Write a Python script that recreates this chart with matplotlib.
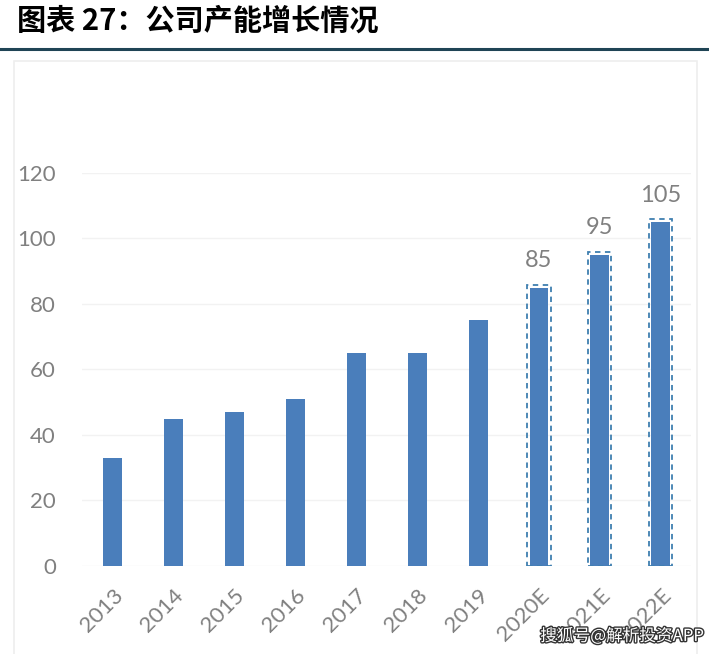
import matplotlib.pyplot as plt
import matplotlib.patheffects as pe
from matplotlib.patches import Rectangle
from matplotlib.lines import Line2D

plt.rcParams['font.family'] = ['Noto Sans CJK SC', 'DejaVu Sans']

years = ['2013', '2014', '2015', '2016', '2017', '2018', '2019', '2020E', '2021E', '2022E']
capacity = [33, 45, 47, 51, 65, 65, 75, 85, 95, 105]
forecast = [False] * 7 + [True] * 3

bar_color = '#4a7ebb'
text_gray = '#808080'
num_font = ['Lato', 'DejaVu Sans']

fig = plt.figure(figsize=(7.09, 6.54), dpi=100)

# title and rule under it
fig.text(0.024, 0.968, '图表 27：公司产能增长情况', fontsize=21, fontweight='bold',
         ha='left', va='center', color='black')
fig.add_artist(Line2D([0, 1], [0.925, 0.925], color='#1f4455', lw=2.2,
                      transform=fig.transFigure))
# light frame around the chart
fig.add_artist(Rectangle((0.020, -0.01), 0.963, 0.917, transform=fig.transFigure,
                         fill=False, edgecolor='#eeeeee', lw=1.2))

ax = fig.add_axes([0.116, 0.1346, 0.859, 0.601])
x = range(len(years))
ax.bar(x, capacity, width=0.31, color=bar_color, zorder=3)

for i, (v, f) in enumerate(zip(capacity, forecast)):
    if f:
        ax.add_patch(Rectangle((i - 0.19, 0), 0.38, v + 0.8, fill=False,
                               edgecolor='#3f7fb0', lw=1.3, ls=(0, (3, 2.5)), zorder=4))
        ax.text(i, v + 5, str(v), ha='center', va='bottom', fontsize=17,
                color=text_gray, family=num_font)

ax.set_xlim(-0.5, 9.5)
ax.set_ylim(0, 120)
ax.set_yticks(range(0, 121, 20))
ax.set_xticks(list(x))
ax.set_xticklabels(years, rotation=45, ha='right', va='top', rotation_mode='anchor')
for lab in ax.get_xticklabels() + ax.get_yticklabels():
    lab.set_family(num_font)
ax.tick_params(axis='both', length=0, labelsize=16, labelcolor=text_gray)
ax.tick_params(axis='y', pad=19)
ax.tick_params(axis='x', pad=14)
ax.grid(axis='y', color='#f2f2f2', lw=1, zorder=0)
for s in ax.spines.values():
    s.set_visible(False)

# watermark
fig.text(0.762, 0.027, '搜狐号@解析投资APP', fontsize=12, color='white', ha='left', va='center',
         path_effects=[pe.withStroke(linewidth=2, foreground='#333333')])

fig.savefig('out.png', dpi=100)
